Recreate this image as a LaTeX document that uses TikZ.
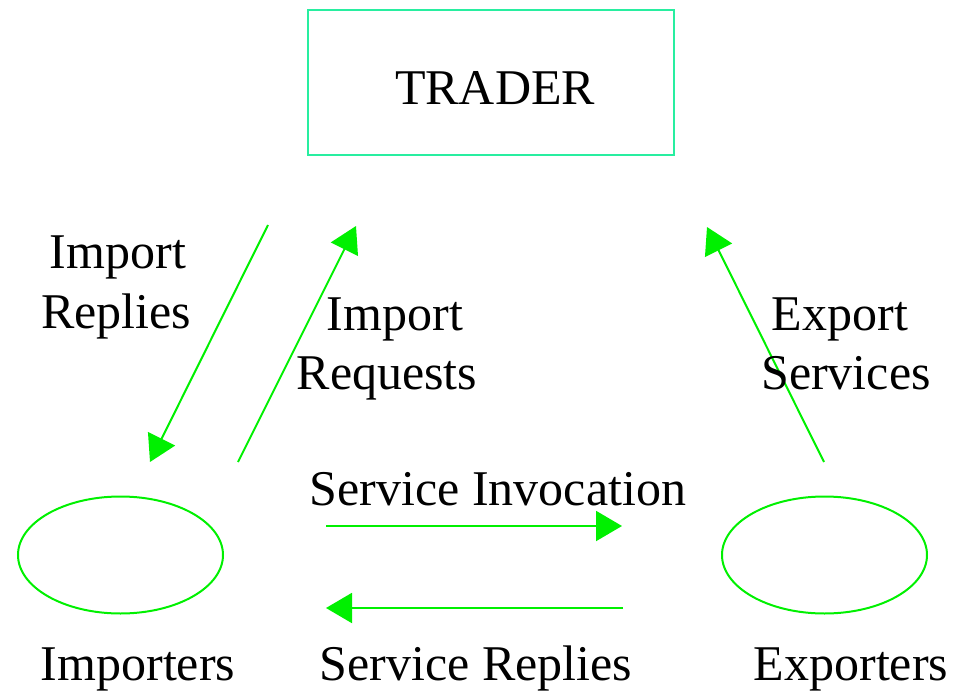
\documentclass[tikz,border=0pt]{standalone}
\usepackage{fontspec}
\setmainfont{Liberation Serif}
\usetikzlibrary{arrows.meta,shapes.geometric}
\definecolor{arrgreen}{RGB}{0,240,0}
\definecolor{boxmint}{RGB}{40,238,160}
\tikzset{
  conn/.style={draw=arrgreen,line width=2pt,-{Triangle[length=26pt,width=30pt]}},
  lbl/.style={font=\fontsize{50}{60}\selectfont,inner sep=0pt,anchor=base,align=center},
  party/.style={draw=arrgreen,line width=2pt,ellipse,minimum width=205pt,minimum height=117pt,inner sep=0pt}
}
\begin{document}
\begin{tikzpicture}[x=1pt,y=-1pt]
\useasboundingbox (0,0) rectangle (954,693);
\node[draw=boxmint,line width=2.2pt,minimum width=366pt,minimum height=145pt,inner sep=0pt] (trader) at (491,82.5) {};
\node[lbl] (tradertxt) at (495,105) {TRADER};
\node[party] (imp) at (120.5,555) {};
\node[party] (exp) at (824.5,555) {};
\coordinate (irS) at (268,225);
\coordinate (irE) at (150,462);
\coordinate (rqS) at (238,462);
\coordinate (rqE) at (356,226);
\coordinate (esS) at (824,462);
\coordinate (esE) at (707,227);
\coordinate (siS) at (326,526);
\coordinate (siE) at (622,526);
\coordinate (srS) at (623,608);
\coordinate (srE) at (326,608);
\draw[conn] (irS) -- (irE);
\draw[conn] (rqS) -- (rqE);
\draw[conn] (esS) -- (esE);
\draw[conn] (siS) -- (siE);
\draw[conn] (srS) -- (srE);
\node[lbl] (l1) at (118,268) {Import};
\node[lbl] (l1b) at (116,328) {Replies};
\node[lbl] (l2) at (395,330) {Import};
\node[lbl] (l2b) at (387,389) {Requests};
\node[lbl] (l3) at (840,330) {Export};
\node[lbl] (l3b) at (846,389) {Services};
\node[lbl] (l4) at (498,505) {Service Invocation};
\node[lbl] (l5) at (138,680) {Importers};
\node[lbl] (l6) at (476,680) {Service Replies};
\node[lbl] (l7) at (851,680) {Exporters};
\end{tikzpicture}
\end{document}
